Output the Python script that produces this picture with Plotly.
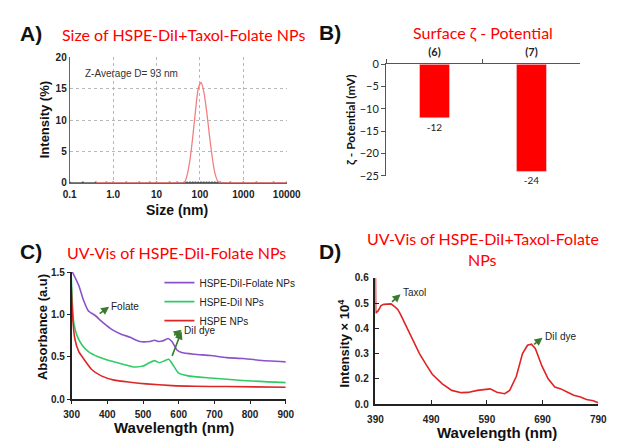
import plotly.graph_objects as go

W, H = 619, 444

# ---------------- DATA ----------------
# A) DLS size distribution
size_nm = [0.1, 0.2, 0.4, 0.7, 1.0, 2.0, 4.0, 7.0, 10, 20, 30, 43.8, 50.7, 58.8, 68.1, 78.8, 91.3,
           105.7, 122.4, 141.8, 164.2, 190.1, 220.2, 255.0, 295.3, 500, 1000, 2000, 5000, 10000]
intensity_pct = [None, None, 0, 0, 0, 0, 0, 0, 0, 0, 0, 0, 1.2, 3.6, 7.2, 11.4, 15.0,
                 16.0, 14.6, 11.6, 7.8, 4.3, 1.6, 0.3, 0, 0, 0, 0, 0, 0]
baseline_pct = [0] * len(size_nm)
z_average = 93

# B) Zeta potential
zeta_cats = ["(6)", "(7)"]
zeta_mv = [-12, -24]

# C) UV-Vis absorbance
wl_folate = [302, 320, 333, 347, 365, 383, 410, 437, 464, 491, 518, 532, 545, 554, 570, 581, 595,
             608, 644, 689, 734, 779, 824, 900]
abs_folate = [1.50, 1.34, 1.17, 1.04, 0.99, 0.92, 0.83, 0.77, 0.73, 0.68, 0.68, 0.695, 0.68, 0.685,
              0.715, 0.68, 0.58, 0.55, 0.53, 0.515, 0.49, 0.48, 0.46, 0.44]
wl_dil = [298, 302, 306, 315, 329, 347, 374, 410, 446, 473, 500, 518, 532, 545, 559, 572, 586, 599,
          626, 689, 779, 900]
abs_dil = [1.55, 1.13, 0.90, 0.75, 0.64, 0.56, 0.50, 0.45, 0.41, 0.38, 0.39, 0.43, 0.455, 0.43,
           0.45, 0.47, 0.39, 0.31, 0.275, 0.25, 0.22, 0.195]
wl_hspe = [297, 302, 309, 320, 338, 356, 383, 419, 464, 509, 581, 644, 734, 900]
abs_hspe = [1.55, 1.02, 0.71, 0.56, 0.45, 0.35, 0.275, 0.225, 0.20, 0.18, 0.16, 0.152, 0.149, 0.14]

# D) Spectrum of HSPE-DiI+Taxol-Folate NPs
wl_d = [390, 390.5, 395, 400, 405, 410, 418, 425, 430, 435, 446, 458, 469, 481, 492, 510, 527, 544,
        556, 573, 590, 596, 608, 622, 631, 643, 654, 663, 670, 677, 689, 700, 712, 723, 735, 746,
        758, 769, 781, 790]
int_d = [0.60, 0.46, 0.47, 0.49, 0.495, 0.495, 0.497, 0.485, 0.475, 0.455, 0.404, 0.353, 0.30,
         0.256, 0.218, 0.18, 0.154, 0.145, 0.146, 0.154, 0.158, 0.16, 0.147, 0.141, 0.154, 0.21,
         0.30, 0.333, 0.337, 0.32, 0.25, 0.20, 0.167, 0.16, 0.147, 0.135, 0.128, 0.118, 0.113, 0.105]
d_ticks = [0.1, 0.2, 0.3, 0.4, 0.5, 0.6]
d_ticktext = ["0.0", "0.2", "0.3", "0.4", "0.5", "0.6"]

# ---------------- STYLE ----------------
ARIAL = "Arial, Liberation Sans, sans-serif"
CAL = "Lato, Carlito, sans-serif"
RED = "#ff0000"
GREEN_ARROW = "#3b7a2e"


def px(x):
    return x / W


def py(y):
    return 1 - y / H


fig = go.Figure()

# A traces
fig.add_trace(go.Scatter(x=size_nm, y=baseline_pct, mode="lines+markers", xaxis="x", yaxis="y",
                         line=dict(color="#555555", width=1.2), marker=dict(size=2.5, color="#444"),
                         showlegend=False))
fig.add_trace(go.Scatter(x=size_nm, y=intensity_pct, mode="lines", xaxis="x", yaxis="y",
                         line=dict(color="#f28080", width=1.3, shape="spline", smoothing=0.6),
                         connectgaps=False, showlegend=False))

# B bars
fig.add_trace(go.Bar(x=zeta_cats, y=zeta_mv, xaxis="x2", yaxis="y2", marker_color=RED,
                     text=[str(v) for v in zeta_mv], textposition="outside",
                     textfont=dict(family=CAL, size=10, color="#222"), cliponaxis=False,
                     showlegend=False))

# C traces
fig.add_trace(go.Scatter(x=wl_folate, y=abs_folate, mode="lines", xaxis="x3", yaxis="y3",
                         name="HSPE-DiI-Folate NPs", line=dict(color="#8b52c9", width=1.6, shape="spline", smoothing=0.5)))
fig.add_trace(go.Scatter(x=wl_dil, y=abs_dil, mode="lines", xaxis="x3", yaxis="y3",
                         name="HSPE-DiI NPs", line=dict(color="#2fcc66", width=1.6, shape="spline", smoothing=0.5)))
fig.add_trace(go.Scatter(x=wl_hspe, y=abs_hspe, mode="lines", xaxis="x3", yaxis="y3",
                         name="HSPE NPs", line=dict(color="#dd2727", width=1.6, shape="spline", smoothing=0.5)))

# D trace
fig.add_trace(go.Scatter(x=wl_d, y=int_d, mode="lines", xaxis="x4", yaxis="y4",
                         line=dict(color="#e02424", width=1.6), showlegend=False))

tickbold = dict(family=ARIAL, size=10, color="#222", weight="bold")

fig.update_layout(
    width=W, height=H, margin=dict(l=0, r=0, t=0, b=0),
    paper_bgcolor="white", plot_bgcolor="white",
    bargap=0.69,
    xaxis=dict(domain=[px(64), px(289)], anchor="y", type="log", range=[-1, 4],
               tickvals=[0.1, 1, 10, 100, 1000, 10000],
               ticktext=["0.1", "1.0", "10", "100", "1000", "10000"],
               showgrid=True, gridcolor="#b8b8b8", griddash="dot", gridwidth=1,
               showline=True, linecolor="#666", linewidth=1, ticks="", tickfont=tickbold,
               zeroline=False, ticklabelstandoff=2),
    yaxis=dict(domain=[py(181), py(52)], anchor="x", range=[0, 20], tickvals=[0, 5, 10, 15, 20],
               showgrid=True, gridcolor="#b8b8b8", griddash="dot", gridwidth=1,
               showline=True, linecolor="#666", linewidth=1, ticks="", tickfont=tickbold,
               zeroline=False),
    xaxis2=dict(domain=[px(392), px(593)], anchor="y2", side="top", type="category",
                showline=True, linecolor="#555", linewidth=1, ticks="outside", ticklen=4,
                tickson="boundaries", tickcolor="#555", ticklabelstandoff=3,
                tickfont=dict(family=CAL, size=11, color="#222", weight="bold"), showgrid=False),
    yaxis2=dict(domain=[py(174), py(59)], anchor="x2", range=[-25, 0],
                tickvals=[0, -5, -10, -15, -20, -25], showline=True, linecolor="#555", linewidth=1,
                ticks="outside", ticklen=4, tickcolor="#555", showgrid=False, zeroline=False,
                tickfont=dict(family=CAL, size=11, color="#222")),
    xaxis3=dict(domain=[px(66), px(288)], anchor="y3", range=[300, 900],
                tickvals=[300, 400, 500, 600, 700, 800, 900], showline=True, linecolor="#222",
                linewidth=1.5, ticks="outside", ticklen=3, tickcolor="#222", showgrid=False,
                zeroline=False, tickfont=tickbold, ticklabelstandoff=2),
    yaxis3=dict(domain=[py(404), py(273)], anchor="x3", range=[0, 1.5],
                tickvals=[0, 0.5, 1.0, 1.5], ticktext=["0.0", "0.5", "1.0", "1.5"],
                showline=True, linecolor="#222", linewidth=1.5, ticks="outside", ticklen=3,
                tickcolor="#222", showgrid=False, zeroline=False, tickfont=tickbold),
    xaxis4=dict(domain=[px(381), px(612)], anchor="y4", range=[390, 790],
                tickvals=[390, 490, 590, 690, 790], showline=True, linecolor="#222",
                linewidth=1.5, ticks="inside", ticklen=4, tickcolor="#222", showgrid=False,
                zeroline=False, tickfont=tickbold, ticklabelstandoff=5),
    yaxis4=dict(domain=[py(409), py(279)], anchor="x4", range=[0.1, 0.6],
                tickvals=d_ticks, ticktext=d_ticktext,
                showline=True, linecolor="#222", linewidth=1.5, ticks="inside", ticklen=4,
                tickcolor="#222", showgrid=False, zeroline=False, tickfont=tickbold,
                ticklabelstandoff=3),
    legend=dict(x=px(157), y=py(269), xanchor="left", yanchor="top", bgcolor="rgba(0,0,0,0)",
                font=dict(family=ARIAL, size=10, color="#222"), itemwidth=30, tracegroupgap=0),
)

ann = []


def txt(x, y, s, size, color="#111", family=ARIAL, bold=False, xanchor="center", angle=0):
    ann.append(dict(x=px(x), y=py(y), xref="paper", yref="paper", text=s, showarrow=False,
                    xanchor=xanchor, yanchor="middle", textangle=angle,
                    font=dict(family=family, size=size, color=color,
                              weight="bold" if bold else "normal")))


# panel letters
txt(24, 27, "A)", 21, bold=True)
txt(334, 26, "B)", 21, bold=True)
txt(24, 252, "C)", 21, bold=True)
txt(334, 252, "D)", 21, bold=True)
# red titles
txt(182, 28, "Size of HSPE-DiI+Taxol-Folate NPs", 16, RED, CAL)
txt(492, 26, "Surface ζ - Potential", 16, RED, CAL)
txt(175, 253, "UV-Vis of HSPE-DiI-Folate NPs", 16, RED, CAL)
txt(492, 238, "UV-Vis of HSPE-DiI+Taxol-Folate", 16, RED, CAL)
txt(492, 260, "NPs", 16, RED, CAL)
# axis titles
txt(175, 209, "Size (nm)", 14, bold=True)
txt(38, 116, "Intensity (%)", 13, bold=True, angle=-90)
txt(355, 116, "ζ - Potential (mV)", 12, family=CAL, bold=True, angle=-90)
txt(172, 433, "Wavelength (nm)", 15, bold=True)
txt(36, 330, "Absorbance (a.u)", 13, bold=True, angle=-90)
txt(507, 438, "Wavelength (nm)", 15, bold=True)
txt(348, 346, "Intensity × 10<sup>4</sup>", 13, bold=True, angle=-90)
# in-plot notes
txt(78, 68, f"Z-Average D= {z_average} nm", 10, "#333", xanchor="left")


# data-referenced annotations with arrows
def arrow(xr, yr, x, y, ax, ay):
    ann.append(dict(x=x, y=y, xref=xr, yref=yr, ax=ax, ay=ay, text="", showarrow=True,
                    arrowhead=2, arrowsize=1, arrowwidth=1.6, arrowcolor=GREEN_ARROW,
                    standoff=0, startstandoff=0))


def label(xr, yr, x, y, s):
    ann.append(dict(x=x, y=y, xref=xr, yref=yr, text=s, showarrow=False, xanchor="left",
                    yanchor="middle", font=dict(family=ARIAL, size=10, color="#222")))


arrow("x3", "y3", 405, 1.09, -11, 8)
label("x3", "y3", 405, 1.09, "Folate")
arrow("x3", "y3", 608, 0.82, -9, 7)
arrow("x3", "y3", 608, 0.80, -10, 26)
label("x3", "y3", 610, 0.81, "DiI dye")
arrow("x4", "y4", 435, 0.535, -10, 9)
label("x4", "y4", 435, 0.54, "Taxol")
arrow("x4", "y4", 690, 0.363, -10, 8)
label("x4", "y4", 690, 0.366, "DiI dye")

fig.update_layout(annotations=ann)
fig.write_html("out.html")
